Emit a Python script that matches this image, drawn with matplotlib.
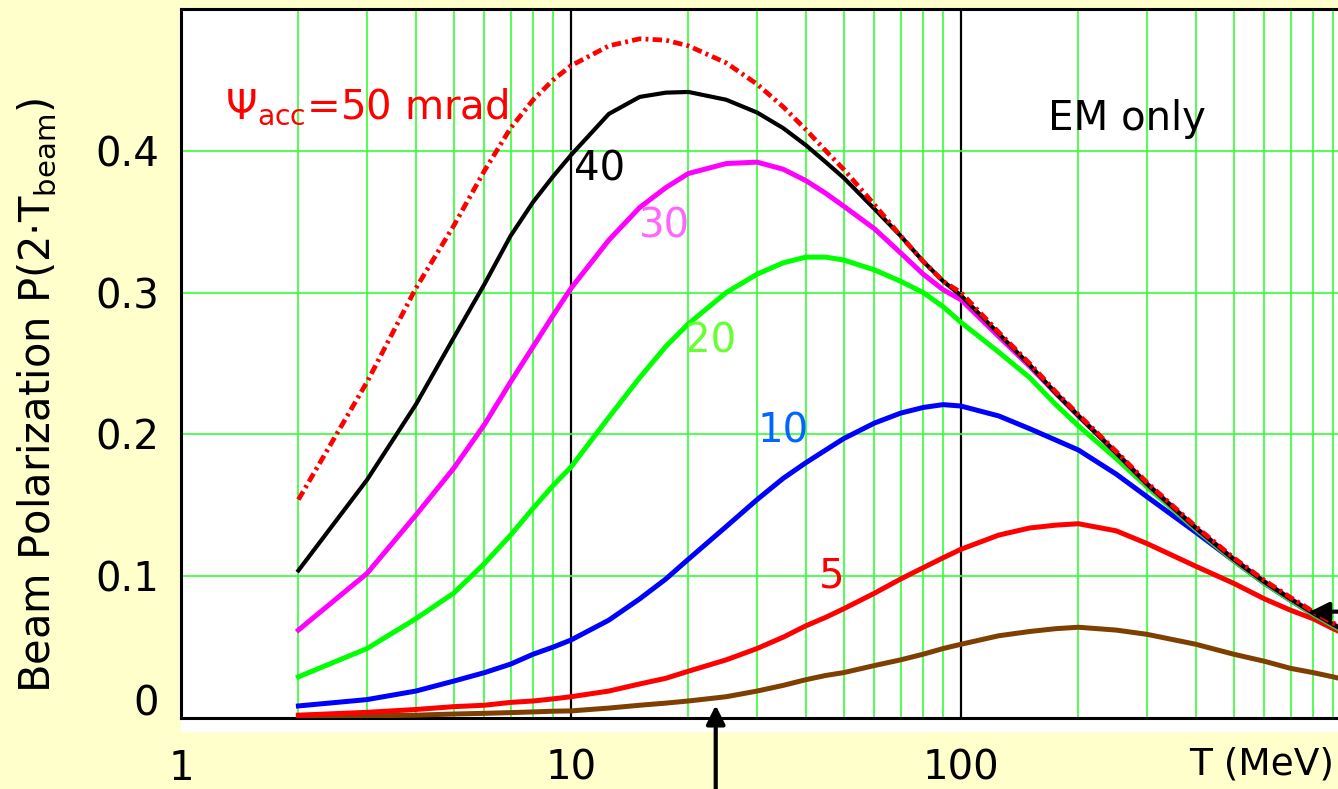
import numpy as np
import matplotlib
matplotlib.use('Agg')
import matplotlib.pyplot as plt
import matplotlib.transforms as mtransforms
from matplotlib.patches import Rectangle

# Beam kinetic energy T (MeV)
T = [2, 3, 4, 5, 6, 7, 8, 9, 10, 12.5, 15, 17.5, 20, 25, 30, 35, 40, 45, 50, 60, 70, 80, 90,
     100, 125, 150, 175, 200, 250, 300, 400, 500, 600, 700, 800, 900, 1000]

# Beam polarization for each acceptance angle psi_acc (mrad)
pol_50 = [0.154, 0.237, 0.303, 0.347, 0.386, 0.416, 0.436, 0.450, 0.460, 0.474, 0.479, 0.478, 0.474,
          0.462, 0.447, 0.431, 0.415, 0.400, 0.387, 0.362, 0.340, 0.322, 0.308,
          0.300, 0.272, 0.250, 0.230, 0.214, 0.188, 0.166, 0.135, 0.113, 0.097, 0.085, 0.075, 0.067, 0.060]
pol_40 = [0.104, 0.168, 0.221, 0.268, 0.306, 0.340, 0.364, 0.382, 0.397, 0.426, 0.438, 0.441, 0.4415,
          0.436, 0.427, 0.416, 0.404, 0.392, 0.381, 0.359, 0.340, 0.322, 0.308,
          0.298, 0.271, 0.249, 0.229, 0.213, 0.187, 0.165, 0.134, 0.112, 0.096, 0.084, 0.074, 0.066, 0.059]
pol_30 = [0.062, 0.102, 0.143, 0.176, 0.207, 0.237, 0.262, 0.284, 0.303, 0.337, 0.360, 0.374, 0.384,
          0.391, 0.392, 0.387, 0.379, 0.370, 0.361, 0.345, 0.328, 0.313, 0.302,
          0.295, 0.269, 0.248, 0.229, 0.213, 0.187, 0.165, 0.134, 0.112, 0.096, 0.084, 0.074, 0.066, 0.059]
pol_20 = [0.029, 0.049, 0.070, 0.088, 0.109, 0.129, 0.148, 0.164, 0.177, 0.212, 0.240, 0.262, 0.278,
          0.300, 0.313, 0.321, 0.325, 0.325, 0.323, 0.316, 0.308, 0.300, 0.290,
          0.279, 0.258, 0.240, 0.221, 0.206, 0.183, 0.163, 0.133, 0.111, 0.095, 0.083, 0.073, 0.065, 0.058]
pol_10 = [0.0085, 0.013, 0.019, 0.026, 0.032, 0.038, 0.045, 0.050, 0.055, 0.069, 0.084, 0.098, 0.112,
          0.135, 0.154, 0.169, 0.180, 0.189, 0.197, 0.208, 0.215, 0.219, 0.221,
          0.220, 0.213, 0.204, 0.196, 0.189, 0.172, 0.156, 0.131, 0.111, 0.095, 0.083, 0.073, 0.065, 0.058]
pol_5 = [0.002, 0.004, 0.006, 0.008, 0.009, 0.011, 0.012, 0.0135, 0.015, 0.019, 0.024, 0.028, 0.033,
         0.041, 0.049, 0.057, 0.065, 0.071, 0.077, 0.088, 0.098, 0.106, 0.113,
         0.119, 0.129, 0.134, 0.136, 0.137, 0.132, 0.123, 0.107, 0.095, 0.084, 0.076, 0.070, 0.063, 0.057]
pol_2 = [0.001, 0.0015, 0.002, 0.0028, 0.0033, 0.0038, 0.0043, 0.0048, 0.005, 0.007, 0.009, 0.0105, 0.012,
         0.015, 0.019, 0.023, 0.027, 0.030, 0.032, 0.037, 0.041, 0.045, 0.049,
         0.052, 0.058, 0.061, 0.063, 0.064, 0.062, 0.059, 0.052, 0.045, 0.040, 0.035, 0.032, 0.029, 0.026]

BG = '#FFFFCC'
GRID = '#33FF33'
FS = 29

fig = plt.figure(figsize=(13.38, 7.89), dpi=100, facecolor=BG)
ax = fig.add_axes([181 / 1338, 71 / 789, 1 - 181 / 1338, 709 / 789])

# curves
ax.plot(T, pol_2, color='#7F3F00', lw=3.6, zorder=3)
ax.plot(T, pol_5, color='#FF0000', lw=3.6, zorder=3)
ax.plot(T, pol_10, color='#0000FF', lw=3.6, zorder=3)
ax.plot(T, pol_20, color='#00FF00', lw=3.6, zorder=3)
ax.plot(T, pol_30, color='#FF00FF', lw=3.6, zorder=3)
ax.plot(T, pol_40, color='black', lw=3.0, zorder=4)
ax.plot(T, pol_50, color='#FF0000', lw=3.4, ls=(0, (2.0, 0.9, 0.6, 0.9)), zorder=5)

ax.set_xscale('log')
ax.set_xlim(1, 10 ** ((1338 - 181) / 390))
ax.set_ylim(0, 0.5)

# grid: green minor verticals and horizontals, black decades
ax.set_yticks([0, 0.1, 0.2, 0.3, 0.4])
ax.set_yticklabels(['0', '0.1', '0.2', '0.3', '0.4'])
ax.set_xticks([1, 10, 100])
ax.set_xticklabels(['1', '10', '100'])
ax.grid(True, which='minor', axis='x', color=GRID, lw=1.2, zorder=1)
ax.grid(True, which='major', axis='y', color=GRID, lw=1.2, zorder=1)
ax.grid(True, which='major', axis='x', color='black', lw=1.6, zorder=1)
ax.tick_params(which='both', length=0)
ax.tick_params(axis='y', labelsize=FS, pad=16)
ax.tick_params(axis='x', labelsize=FS, pad=22)
ax.xaxis.set_minor_formatter(plt.NullFormatter())
ax.set_axisbelow(True)

# lift the "0" label off the axis line a little
lab0 = ax.get_yticklabels()[0]
lab0.set_transform(lab0.get_transform() + mtransforms.ScaledTranslation(0, 18 / 100, fig.dpi_scale_trans))

for side in ['left', 'bottom', 'top']:
    ax.spines[side].set_linewidth(2.2)
    ax.spines[side].set_color('black')
ax.spines['right'].set_visible(False)

# curve labels
ax.text(1.30, 0.423, r'$\Psi_{\rm acc}$=50 mrad', color='#FF0000', fontsize=FS, va='baseline')
ax.text(167, 0.415, 'EM only', color='black', fontsize=FS, va='baseline')
ax.text(10.2, 0.379, '40', color='black', fontsize=FS, va='baseline', zorder=6)
ax.text(14.9, 0.339, '30', color='#FF66FF', fontsize=FS, va='baseline', zorder=6)
ax.text(19.6, 0.258, '20', color='#66FF33', fontsize=FS, va='baseline', zorder=6)
ax.text(30.0, 0.194, '10', color='#0066FF', fontsize=FS, va='baseline', zorder=6)
ax.text(43.1, 0.092, '5', color='#FF0000', fontsize=FS, va='baseline', zorder=6)

# arrows
ax.annotate('', xy=(23.5, 0.009), xycoords='data',
            xytext=(23.5, -0.11), textcoords=ax.get_xaxis_transform(),
            arrowprops=dict(arrowstyle='-|>', lw=3, color='black', mutation_scale=28,
                            shrinkA=0, shrinkB=0),
            annotation_clip=False, zorder=7)
ax.annotate('', xy=(785, 0.075), xycoords='data',
            xytext=(1.05, 0.075), textcoords=ax.get_yaxis_transform(),
            arrowprops=dict(arrowstyle='-|>', lw=3, color='black', mutation_scale=28,
                            shrinkA=0, shrinkB=0),
            annotation_clip=False, zorder=7)

# white strip under the bottom axis line
fig.patches.append(Rectangle((181 / 1338, 57 / 789), 1, 14 / 789, transform=fig.transFigure,
                             facecolor='white', edgecolor='none', zorder=-1))

fig.text(38 / 1338, 1 - 395 / 789, r'Beam Polarization P(2$\cdot$T$_{\rm beam}$)',
         rotation=90, ha='center', va='center', fontsize=30)
fig.text(1334 / 1338, 1 - 765 / 789, 'T (MeV)', ha='right', va='center', fontsize=27)

fig.savefig('out.png', dpi=100, facecolor=BG)
